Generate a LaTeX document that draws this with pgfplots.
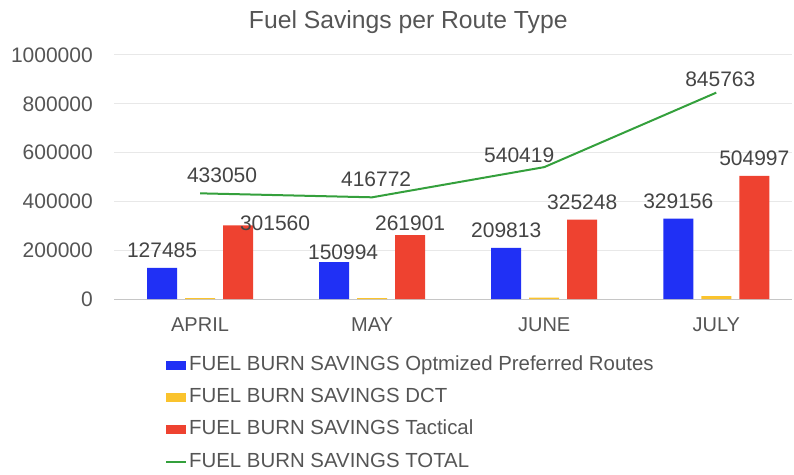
\documentclass[border=0pt]{standalone}
\usepackage{pgfplots}
\pgfplotsset{compat=1.18}
\usepackage{pgfplotstable}
\usepackage{fontspec}
\setmainfont{Liberation Sans}
\definecolor{cblue}{RGB}{32,48,245}
\definecolor{cyellow}{RGB}{250,195,45}
\definecolor{cred}{RGB}{238,66,48}
\definecolor{cgreen}{RGB}{52,160,60}
\definecolor{txt}{RGB}{85,85,85}
\definecolor{lbl}{RGB}{68,68,68}

% dx, dy: label offsets (pt) from the group centre / point
\pgfplotstableread{
x y dx dy
0 127485 -38 10
1 150994 -29 3
2 209813 -38 10
3 329156 -38 10
}\optim
\pgfplotstableread{
x y
0 4005
1 3877
2 5358
3 11610
}\dct
\pgfplotstableread{
x y dx dy
0 301560 75 -5
1 261901 38 5
2 325248 38 10
3 504997 38 10
}\tact
\pgfplotstableread{
x y dx dy
0 433050 22 11
1 416772 4 11
2 540419 -25 5
3 845763 4 6
}\total

\pgfplotsset{lbls/.style={
  point meta=explicit symbolic,
  nodes near coords={\pgfplotspointmeta},
  visualization depends on={\thisrow{dx}\as\dx},
  visualization depends on={\thisrow{dy}\as\dy},
  nodes near coords style={font=\fontsize{21}{25}\selectfont, text=lbl, anchor=base, inner sep=0pt, xshift=\dx pt, yshift=\dy pt}}}

\begin{document}
\begin{tikzpicture}
\useasboundingbox (0,0) rectangle (794pt,474pt);
\begin{axis}[
  at={(114pt,175pt)}, anchor=south west,
  scale only axis, width=678pt, height=244pt,
  xmin=-0.5, xmax=3.44, ymin=0, ymax=1000000,
  xtick={0,1,2,3}, xticklabels={APRIL,MAY,JUNE,JULY},
  ytick={0,200000,400000,600000,800000,1000000},
  scaled y ticks=false,
  major tick length=0pt,
  axis x line*=bottom, axis y line*=left,
  x axis line style={draw=gray!45, line width=1pt, -},
  y axis line style={draw=none},
  ymajorgrids, grid style={draw=gray!18, line width=1pt},
  yticklabel style={/pgf/number format/fixed, /pgf/number format/1000 sep={}, /pgf/number format/assume math mode=true,
    font=\fontsize{21}{25}\selectfont, text=txt, inner sep=0pt, xshift=-21pt},
  xticklabel style={font=\fontsize{20}{24}\selectfont, text=txt, inner sep=0pt, yshift=-19pt},
  title={Fuel Savings per Route Type},
  title style={at={(axis description cs:0.434,1.082)}, anchor=base, font=\fontsize{24.7}{28}\selectfont, text=txt},
  legend style={at={(axis description cs:0.0752,-0.2295)}, anchor=north west, draw=none, fill=none,
    font=\fontsize{20.4}{24}\selectfont, text=txt, inner sep=0pt, row sep=12.3pt,
    nodes={inner sep=0pt, text height=15pt, text depth=5pt},
    /tikz/every odd column/.append style={column sep=2pt}},
  legend cell align=left,
]
\addplot[ybar, bar width=30pt, bar shift=-38pt, fill=cblue, draw=none, lbls,
  legend image code/.code={\fill[cblue] (0pt,-4.5pt) rectangle (20pt,4.5pt);}]
  table[x=x, y=y, meta=y] {\optim};
\addlegendentry{FUEL BURN SAVINGS Optmized Preferred Routes}
\addplot[ybar, bar width=30pt, bar shift=0pt, fill=cyellow, draw=none,
  legend image code/.code={\fill[cyellow] (0pt,-4.5pt) rectangle (20pt,4.5pt);}]
  table[x=x, y=y] {\dct};
\addlegendentry{FUEL BURN SAVINGS DCT}
\addplot[ybar, bar width=30pt, bar shift=38pt, fill=cred, draw=none, lbls,
  legend image code/.code={\fill[cred] (0pt,-4.5pt) rectangle (20pt,4.5pt);}]
  table[x=x, y=y, meta=y] {\tact};
\addlegendentry{FUEL BURN SAVINGS Tactical}
\addplot[cgreen, line width=2pt, sharp plot, mark=none, lbls,
  legend image code/.code={\draw[cgreen, line width=2pt] (0pt,0pt) -- (20pt,0pt);}]
  table[x=x, y=y, meta=y] {\total};
\addlegendentry{FUEL BURN SAVINGS TOTAL}
\end{axis}
\end{tikzpicture}
\end{document}
